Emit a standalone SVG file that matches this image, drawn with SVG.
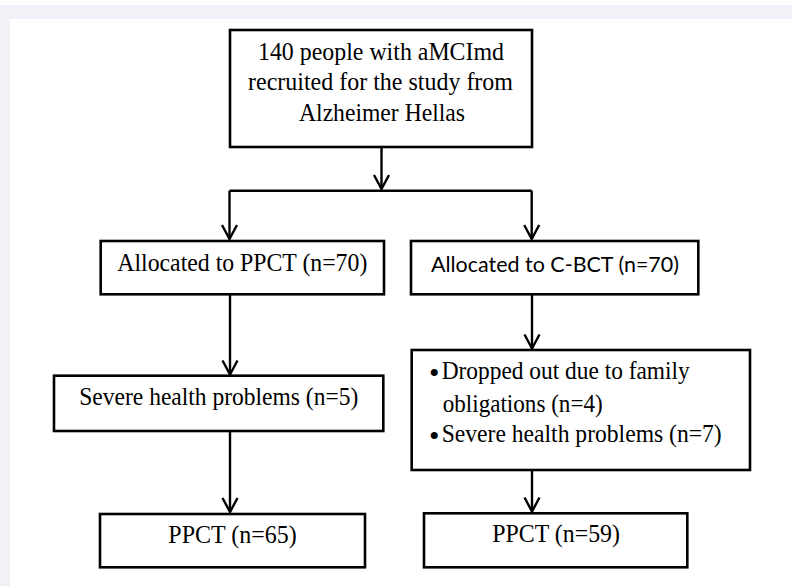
<svg xmlns="http://www.w3.org/2000/svg" width="792" height="586" viewBox="0 0 792 586">
<style>
.box{fill:#fff;stroke:#000;stroke-width:2.6}
.ln{fill:none;stroke:#000;stroke-width:2.4}
.t{font-family:"Liberation Serif","Times New Roman",serif;font-size:25.5px;fill:#000}
.b{font-family:"Liberation Serif","Times New Roman",serif;font-size:30px;fill:#000}
.s{font-family:Lato,"Liberation Sans",sans-serif;font-size:22px;fill:#000}
</style>
<defs>
<marker id="arr" markerUnits="userSpaceOnUse" markerWidth="24" markerHeight="24" viewBox="-18 -12 24 24" refX="0" refY="0" orient="auto">
<path d="M-14,-7.5 L0,0 L-14,7.5" fill="none" stroke="#000" stroke-width="2.4"/>
</marker>
</defs>
<rect x="0" y="0" width="792" height="586" fill="#fff"/>
<rect x="0" y="5" width="792" height="14" fill="#f0f2f7"/>
<rect x="0" y="5" width="10" height="581" fill="#f0f2f7"/>
<g id="connectors">
<path class="ln" d="M381.5,147 V189" marker-end="url(#arr)"/>
<path class="ln" d="M229.5,190.7 H531.7"/>
<path class="ln" d="M229.5,190.7 V239" marker-end="url(#arr)"/>
<path class="ln" d="M531.7,190.7 V239" marker-end="url(#arr)"/>
<path class="ln" d="M230,294.5 V374.5" marker-end="url(#arr)"/>
<path class="ln" d="M230,431 V512" marker-end="url(#arr)"/>
<path class="ln" d="M532,294.5 V348.5" marker-end="url(#arr)"/>
<path class="ln" d="M532,470 V511.5" marker-end="url(#arr)"/>
</g>
<g id="n-recruited">
<rect class="box" x="230" y="30" width="302" height="117"/>
<text class="t" x="258" y="59.5" textLength="246" lengthAdjust="spacingAndGlyphs">140 people with aMCImd</text>
<text class="t" x="248" y="90" textLength="265" lengthAdjust="spacingAndGlyphs">recruited for the study from</text>
<text class="t" x="299" y="120.7" textLength="166" lengthAdjust="spacingAndGlyphs">Alzheimer Hellas</text>
</g>
<g id="n-alloc-ppct">
<rect class="box" x="100.7" y="241" width="283.3" height="53.3"/>
<text class="t" x="117.3" y="270.7" textLength="250" lengthAdjust="spacingAndGlyphs">Allocated to PPCT (n=70)</text>
</g>
<g id="n-alloc-cbct">
<rect class="box" x="411" y="241" width="287.3" height="53.3"/>
<text class="s" x="431" y="271.7" textLength="248" lengthAdjust="spacingAndGlyphs">Allocated to C-BCT (n=70)</text>
</g>
<g id="n-severe-left">
<rect class="box" x="54" y="375.7" width="329.3" height="55.3"/>
<text class="t" x="79.3" y="405" textLength="279" lengthAdjust="spacingAndGlyphs">Severe health problems (n=5)</text>
</g>
<g id="n-dropouts-right">
<rect class="box" x="411.7" y="350" width="338.3" height="120"/>
<text class="b" x="429" y="383">•</text>
<text class="t" x="441.7" y="379" textLength="248" lengthAdjust="spacingAndGlyphs">Dropped out due to family</text>
<text class="t" x="442.7" y="411.7" textLength="160" lengthAdjust="spacingAndGlyphs">obligations (n=4)</text>
<text class="b" x="429" y="445.5">•</text>
<text class="t" x="441.7" y="442.3" textLength="280" lengthAdjust="spacingAndGlyphs">Severe health problems (n=7)</text>
</g>
<g id="n-ppct-65">
<rect class="box" x="100" y="514" width="265" height="53.3"/>
<text class="t" x="168.3" y="542.7" textLength="128.4" lengthAdjust="spacingAndGlyphs">PPCT (n=65)</text>
</g>
<g id="n-ppct-59">
<rect class="box" x="424" y="513.3" width="263.3" height="54"/>
<text class="t" x="492.3" y="541.7" textLength="127.7" lengthAdjust="spacingAndGlyphs">PPCT (n=59)</text>
</g>
</svg>
